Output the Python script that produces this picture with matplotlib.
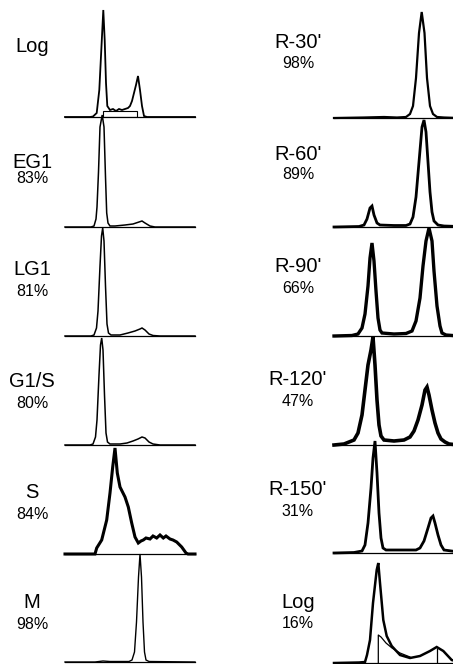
"""Flow cytometry DNA histograms: synchronised cells (left) and release time course (right)."""

import matplotlib
matplotlib.use("Agg")  # non-interactive backend
import matplotlib.pyplot as plt
from matplotlib.patches import Rectangle

# --- panel labels -----------------------------------------------------------
left_names = ["Log", "EG1", "LG1", "G1/S", "S", "M"]
left_pcts = ["", "83%", "81%", "80%", "84%", "98%"]
right_names = ["R-30'", "R-60'", "R-90'", "R-120'", "R-150'", "Log"]
right_pcts = ["98%", "89%", "66%", "47%", "31%", "16%"]

# --- histograms: DNA channel vs relative cell count -------------------------
log_x = [0, 25, 28, 31.7, 34.3, 36.3, 38.3, 39.7, 41, 42.3, 45, 48, 51, 54, 57, 60, 63, 65,
         67, 69, 71, 73, 75, 77, 79, 82, 130]
log_y = [0, 0, 0.5, 4, 27, 67, 107, 77, 34, 11, 7, 8, 6, 8, 7, 8, 9, 11,
         16, 24, 32, 41, 27, 11, 1, 0, 0]
log_gate = [37.7, 72.3, 6]  # S-phase gate: start, end, height

eg1_x = [0, 26, 29, 31, 32, 33.5, 35, 37.2, 39, 40.5, 41.7, 43, 45, 50, 60, 68, 74, 77, 80,
         85, 90, 130]
eg1_y = [0, 0, 1, 8, 20, 55, 100, 112, 100, 50, 14, 4, 1, 1, 2, 3, 5, 6, 4,
         1, 0, 0]

lg1_x = [0, 26, 29, 31.5, 33, 35, 36.5, 37.7, 39, 40.5, 42, 43.5, 46, 55, 63, 70, 75, 77, 80,
         84, 88, 95, 130]
lg1_y = [0, 0, 1, 8, 25, 70, 100, 108, 95, 50, 12, 3, 1, 1, 3, 5, 7, 8, 6,
         2, 0.5, 0, 0]

g1s_x = [0, 25, 28, 30.5, 32, 34, 35.5, 36.7, 38, 39.5, 41, 42.5, 45, 55, 62, 68, 73, 77, 80,
         84, 88, 95, 130]
g1s_y = [0, 0, 1, 8, 25, 70, 100, 107, 95, 50, 12, 3, 1, 1, 2, 4, 6, 8, 7,
         3, 1, 0, 0]

s_x = [0, 30, 31.7, 36.7, 41.7, 45, 47.7, 50, 52.3, 55, 60, 63.3, 66.7, 70, 73.3, 76, 78.3,
       81, 85, 88, 91.7, 95, 98.3, 101, 105, 108, 111.7, 116.7, 121, 123, 130]
s_y = [0, 0, 6, 14, 34, 61, 87, 106, 81, 67, 57, 47, 31, 17, 11, 13, 14,
       16, 15, 18, 16, 19, 16, 18, 15, 14, 12, 7, 1, 0, 0]

m_x = [0, 30, 38, 45, 64, 67, 69.5, 71.5, 73.5, 75, 76.5, 78, 79.5, 81, 84, 130]
m_y = [0, 0, 1, 0.5, 0.5, 2, 10, 40, 85, 108, 85, 40, 10, 2, 0.5, 0]

r30_x = [0, 30, 50, 63, 72, 76, 79, 82, 85, 87.7, 90.5, 93, 96, 99, 103, 110, 125]
r30_y = [0, 0.5, 1, 0.5, 1, 4, 12, 40, 85, 106, 85, 40, 12, 4, 1, 0.5, 0]

r60_x = [0, 25, 30, 33, 36, 38, 40, 43, 46, 60, 72, 76, 79, 82, 85, 88, 90, 92, 94, 96, 98,
         100, 104, 110, 125]
r60_y = [0, 0.5, 2, 8, 19, 21, 12, 4, 2, 1.5, 1.5, 3, 10, 30, 65, 100, 107, 95, 65, 35, 15,
         6, 2, 1, 0.5]

r90_x = [0, 18, 24, 28, 31, 34, 36, 38, 40, 42, 44, 46, 48, 60, 72, 78, 82, 86, 89, 92, 95,
         98, 100, 103, 106, 108, 112, 125]
r90_y = [0, 0.5, 2, 8, 22, 50, 78, 93, 75, 45, 18, 6, 3, 2, 2.5, 5, 15, 38, 70, 95, 108,
         95, 65, 30, 10, 3, 1, 0]

r120_x = [0, 10, 15, 20, 24, 28, 31, 34, 37, 39, 41, 43, 45, 47, 50, 60, 70, 76, 80, 84, 88,
          91, 93, 95, 98, 101, 104, 107, 111, 115, 125]
r120_y = [0, 1, 3, 5, 12, 30, 55, 80, 95, 108, 80, 45, 20, 9, 5, 4, 5, 8, 14, 25, 40,
          55, 58, 50, 35, 22, 12, 6, 3, 1, 0]

r150_x = [0, 20, 28, 31, 34, 37, 39, 41, 43, 45, 47, 49, 52, 70, 82, 86, 90, 94, 97, 99, 101,
          104, 107, 110, 125]
r150_y = [0, 0.5, 2, 8, 30, 65, 95, 112, 80, 40, 15, 5, 3, 3, 3, 5, 12, 25, 35, 37, 30,
          18, 8, 3, 1]

rlog_x = [0, 25, 31, 33, 36, 39, 42.7, 44.3, 46, 49.3, 52.7, 57.7, 66, 76, 86, 96, 102.7,
          109.3, 117.7, 125]
rlog_y = [0, 0.5, 1, 8, 23, 60, 93, 100, 80, 43, 27, 17, 8, 5, 7, 12, 16,
          12, 3, 1]
rlog_fit_x = [44.3, 44.3, 47, 52, 58, 66, 76]
rlog_fit_y = [0, 28, 26, 20, 15, 10, 6]
rlog_marker = [102.7, 14]  # channel, height

left_series = [(log_x, log_y), (eg1_x, eg1_y), (lg1_x, lg1_y),
               (g1s_x, g1s_y), (s_x, s_y), (m_x, m_y)]
right_series = [(r30_x, r30_y), (r60_x, r60_y), (r90_x, r90_y),
                (r120_x, r120_y), (r150_x, r150_y), (rlog_x, rlog_y)]

# --- layout (pixels) --------------------------------------------------------
W, H = 453, 664
left_base = [117, 227, 336, 445, 554, 662]
right_base = [118, 227, 336, 445, 553, 663]
left_lw = [1.3, 1.1, 1.1, 1.1, 2.2, 1.0]
right_lw = [1.6, 2.0, 2.4, 2.6, 2.0, 1.8]
panel_h = 109

left_label_y = [(52, None), (168, 183), (275, 296), (387, 408), (498, 519), (608, 629)]
right_label_y = [(48, 68), (160, 179), (272, 293), (385, 406), (495, 516), (608, 628)]

plt.rcParams["font.family"] = ["Liberation Sans", "DejaVu Sans"]
fig = plt.figure(figsize=(W / 100, H / 100), dpi=100)


def add_panel(x0, width, base, xmax):
    ax = fig.add_axes([x0 / W, 1 - base / H, width / W, panel_h / H])
    ax.set_xlim(0, xmax)
    ax.set_ylim(0, panel_h)
    ax.axis("off")
    ax.axhline(0, color="black", lw=0.9, clip_on=False)
    return ax


for i, (xs, ys) in enumerate(left_series):
    ax = add_panel(65, 130, left_base[i], 130)
    ax.plot(xs, ys, color="black", lw=left_lw[i], clip_on=False, solid_joinstyle="miter")
    if i == 0:
        ax.add_patch(Rectangle((log_gate[0], 0), log_gate[1] - log_gate[0], log_gate[2],
                               fill=False, edgecolor="black", lw=0.8))
    ny, py = left_label_y[i]
    fig.text(32 / W, 1 - ny / H, left_names[i], ha="center", va="baseline", fontsize=14.5)
    if py is not None:
        fig.text(32 / W, 1 - py / H, left_pcts[i], ha="center", va="baseline", fontsize=11.5)

for i, (xs, ys) in enumerate(right_series):
    ax = add_panel(334, 119, right_base[i], 119)
    ax.plot(xs, ys, color="black", lw=right_lw[i], clip_on=False, solid_joinstyle="miter")
    if i == 5:
        ax.plot(rlog_fit_x, rlog_fit_y, color="black", lw=0.9)
        ax.plot([rlog_marker[0], rlog_marker[0]], [0, rlog_marker[1]], color="black", lw=0.9)
    ny, py = right_label_y[i]
    fig.text(298 / W, 1 - ny / H, right_names[i], ha="center", va="baseline", fontsize=14.5)
    fig.text(298 / W, 1 - py / H, right_pcts[i], ha="center", va="baseline", fontsize=11.5)

fig.savefig("out.png", dpi=100, facecolor="white")
plt.close(fig)
